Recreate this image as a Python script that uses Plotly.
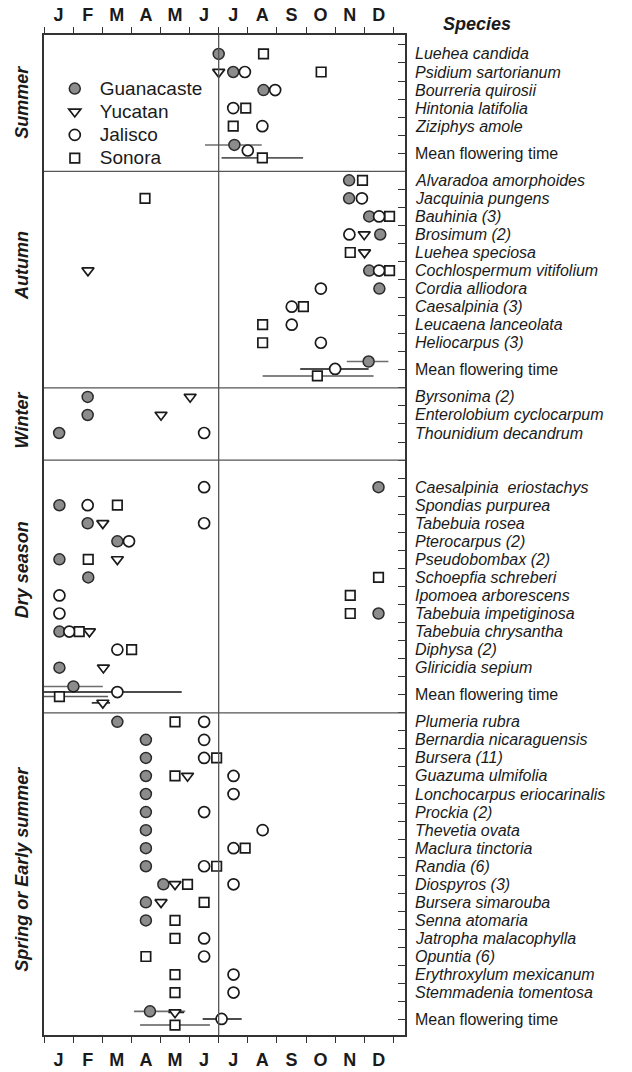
import plotly.graph_objects as go

# ---------------- data ----------------
MONTHS = ["J", "F", "M", "A", "M", "J", "J", "A", "S", "O", "N", "D"]
SECTIONS = ["Summer", "Autumn", "Winter", "Dry season", "Spring or Early summer"]
REGIONS = ["Guanacaste", "Yucatan", "Jalisco", "Sonora"]

summer_species = ["Luehea candida", "Psidium sartorianum", "Bourreria quirosii",
                  "Hintonia latifolia", "Ziziphys amole"]
summer_guan = [6.0, 6.5, 7.54, None, None]
summer_yuc = [None, 6.0, None, None, None]
summer_jal = [None, 6.9, 7.94, 6.5, 7.5]
summer_son = [7.54, 9.52, None, 6.93, 6.5]

autumn_species = ["Alvaradoa amorphoides", "Jacquinia pungens", "Bauhinia (3)",
                  "Brosimum (2)", "Luehea speciosa", "Cochlospermum vitifolium",
                  "Cordia alliodora", "Caesalpinia (3)", "Leucaena lanceolata",
                  "Heliocarpus (3)"]
autumn_guan = [10.48, 10.48, 11.17, 11.55, None, 11.17, 11.52, None, None, None]
autumn_yuc = [None, None, None, 11.0, 11.01, 1.51, None, None, None, None]
autumn_jal = [None, 10.92, 11.51, 10.49, None, 11.51, 9.51, 8.51, 8.51, 9.51]
autumn_son = [10.94, 3.47, 11.87, None, 10.52, 11.87, None, 8.91, 7.51, 7.51]

winter_species = ["Byrsonima (2)", "Enterolobium cyclocarpum", "Thounidium decandrum"]
winter_guan = [1.5, 1.5, 0.52]
winter_yuc = [5.02, 4.02, None]
winter_jal = [None, None, 5.5]
winter_son = [None, None, None]

dry_species = ["Caesalpinia\u00a0 eriostachys", "Spondias purpurea", "Tabebuia rosea",
               "Pterocarpus (2)", "Pseudobombax (2)", "Schoepfia schreberi",
               "Ipomoea arborescens", "Tabebuia impetiginosa", "Tabebuia chrysantha",
               "Diphysa (2)", "Gliricidia sepium"]
dry_guan = [11.49, 0.53, 1.5, 2.52, 0.53, 1.52, None, 11.49, 0.53, None, 0.53]
dry_yuc = [None, None, 2.02, None, 2.52, None, None, None, 1.56, None, 2.04]
dry_jal = [5.5, 1.5, 5.5, 2.92, None, None, 0.53, 0.53, 0.87, 2.52, None]
dry_son = [None, 2.52, None, None, 1.52, 11.49, 10.52, 10.52, 1.21, 3.01, None]

spring_species = ["Plumeria rubra", "Bernardia nicaraguensis", "Bursera (11)",
                  "Guazuma ulmifolia", "Lonchocarpus eriocarinalis", "Prockia (2)",
                  "Thevetia ovata", "Maclura tinctoria", "Randia (6)", "Diospyros (3)",
                  "Bursera simarouba", "Senna atomaria", "Jatropha malacophylla",
                  "Opuntia (6)", "Erythroxylum mexicanum", "Stemmadenia tomentosa"]
spring_guan = [2.52, 3.5, 3.5, 3.5, 3.5, 3.5, 3.5, 3.5, 3.5, 4.1, 3.5, 3.5,
               None, None, None, None]
spring_yuc = [None, None, None, 4.93, None, None, None, None, None, 4.5, 4.02, None,
              None, None, None, None]
spring_jal = [5.5, 5.5, 5.5, 6.51, 6.51, 5.5, 7.51, 6.51, 5.5, 6.51, None, None,
              5.5, 5.5, 6.51, 6.51]
spring_son = [4.5, None, 5.93, 4.5, None, None, None, 6.91, 5.93, 4.93, 5.5, 4.5,
              4.5, 3.5, 4.5, 4.5]

# mean flowering time per section (Summer, Autumn, Winter, Dry, Spring)
guan_mean = [6.54, 11.15, None, 1.01, 3.64]
guan_mean_lo = [5.53, 10.4, None, 0.0, 3.09]
guan_mean_hi = [7.48, 11.83, None, 2.02, 4.85]
yuc_mean = [None, None, None, 2.02, 4.5]
yuc_mean_lo = [None, None, None, 1.64, 4.27]
yuc_mean_hi = [None, None, None, 2.27, 4.81]
jal_mean = [7.0, 10.0, None, 2.52, 6.1]
jal_mean_lo = [7.0, 8.8, None, 0.0, 5.45]
jal_mean_hi = [7.0, 11.15, None, 4.73, 6.79]
son_mean = [7.5, 9.39, None, 0.53, 4.5]
son_mean_lo = [6.1, 7.51, None, 0.0, 3.3]
son_mean_hi = [8.9, 11.32, None, 2.2, 5.7]

# ---------------- layout helpers (row structure) ----------------
section_species = [summer_species, autumn_species, winter_species, dry_species, spring_species]
section_values = {
    "Guanacaste": [summer_guan, autumn_guan, winter_guan, dry_guan, spring_guan],
    "Yucatan": [summer_yuc, autumn_yuc, winter_yuc, dry_yuc, spring_yuc],
    "Jalisco": [summer_jal, autumn_jal, winter_jal, dry_jal, spring_jal],
    "Sonora": [summer_son, autumn_son, winter_son, dry_son, spring_son],
}
means = {
    "Guanacaste": (guan_mean, guan_mean_lo, guan_mean_hi),
    "Yucatan": (yuc_mean, yuc_mean_lo, yuc_mean_hi),
    "Jalisco": (jal_mean, jal_mean_lo, jal_mean_hi),
    "Sonora": (son_mean, son_mean_lo, son_mean_hi),
}
pad_top = [0, 0, 0, 1, 0]
has_mean = [True, True, False, True, True]
mean_dy = {"Guanacaste": [-0.46] * 5, "Yucatan": [0, 0, 0, 0.45, -0.4],
           "Jalisco": [-0.15, -0.05, 0, -0.15, -0.04], "Sonora": [0.26, 0.34, 0, 0.1, 0.3]}
label_y = [3.2, 12.25, 20.8, 29.1, 45.7]

row_y = []
mean_y = []
boundaries = []
cur = 0
for i, sp in enumerate(section_species):
    start = cur + pad_top[i]
    row_y.append([start + k + 0.5 for k in range(len(sp))])
    end_sp = start + len(sp)
    if has_mean[i]:
        mean_y.append(end_sp + 1)
        cur = end_sp + 2
    else:
        mean_y.append(None)
        cur = end_sp + 1
    boundaries.append(cur)
Y_TOP, Y_BOT = -0.55, 54.85

styles = {
    "Guanacaste": dict(symbol="circle", size=11, color="#8c8c8c", line=dict(color="#2a2a2a", width=1.5)),
    "Yucatan": dict(symbol="triangle-down", size=10.5, color="white", line=dict(color="#1a1a1a", width=1.7)),
    "Jalisco": dict(symbol="circle", size=11, color="white", line=dict(color="#1a1a1a", width=1.7)),
    "Sonora": dict(symbol="square", size=9.5, color="white", line=dict(color="#1a1a1a", width=1.7)),
}
bar_color = {"Guanacaste": "#6e6e6e", "Yucatan": "#222222", "Jalisco": "#111111", "Sonora": "#5a5a5a"}

fig = go.Figure()

for reg in REGIONS:
    m, lo, hi = means[reg]
    xs, ys, ep, em = [], [], [], []
    for i in range(5):
        if m[i] is None:
            continue
        xs.append(m[i])
        ys.append(mean_y[i] + mean_dy[reg][i])
        ep.append(hi[i] - m[i])
        em.append(m[i] - lo[i])
    fig.add_trace(go.Scatter(
        x=xs, y=ys, mode="markers", marker=styles[reg], showlegend=False,
        error_x=dict(type="data", symmetric=False, array=ep, arrayminus=em,
                     color=bar_color[reg], thickness=1.6, width=0),
        hoverinfo="skip"))

for reg in REGIONS:
    xs, ys = [], []
    for i in range(5):
        for v, y in zip(section_values[reg][i], row_y[i]):
            if v is not None:
                xs.append(v)
                ys.append(y)
    fig.add_trace(go.Scatter(x=xs, y=ys, mode="markers",
                             name="<span style='font-size:19px'>%s</span>" % reg,
                             marker=styles[reg]))

fig.add_trace(go.Scatter(x=[0], y=[0], xaxis="x2", mode="markers",
                         marker=dict(opacity=0), showlegend=False, hoverinfo="skip"))

FONT = "Liberation Sans, Arial, sans-serif"
anns = []
for i, sp in enumerate(section_species):
    for name, y in zip(sp, row_y[i]):
        anns.append(dict(x=1, xref="paper", y=y, yref="y", xanchor="left", xshift=8,
                         text="<i>%s</i>" % name, showarrow=False,
                         font=dict(family=FONT, size=16, color="#1a1a1a")))
    if mean_y[i] is not None:
        anns.append(dict(x=1, xref="paper", y=mean_y[i], yref="y", xanchor="left", xshift=8,
                         text="Mean flowering time", showarrow=False,
                         font=dict(family=FONT, size=16, color="#1a1a1a")))
    anns.append(dict(x=0, xref="paper", y=label_y[i], yref="y", xshift=-22,
                     xanchor="center", yanchor="middle",
                     text="<b><i>%s</i></b>" % SECTIONS[i], textangle=-90, showarrow=False,
                     font=dict(family=FONT, size=18, color="#1a1a1a")))
anns.append(dict(x=1, xref="paper", y=1, yref="paper", xshift=72, yshift=11,
                 xanchor="center", yanchor="middle", text="<b><i>Species</i></b>",
                 showarrow=False, font=dict(family=FONT, size=18, color="#1a1a1a")))

shapes = [dict(type="line", xref="x", yref="paper", x0=6, x1=6, y0=0, y1=1,
               line=dict(color="#555", width=1.3))]
for b in boundaries[:-1]:
    shapes.append(dict(type="line", xref="paper", yref="y", x0=0, x1=1, y0=b, y1=b,
                       line=dict(color="#555", width=1.3)))

month_pos = [i + 0.5 for i in range(12)]
month_txt = ["<b>%s</b>" % m for m in MONTHS]
xcommon = dict(range=[0, 12.4], tickvals=month_pos, ticktext=month_txt,
               ticks="outside", tickcolor="rgba(0,0,0,0)", automargin=False,
               tickfont=dict(family=FONT, size=18, color="#1a1a1a"),
               showgrid=False, zeroline=False, showline=True, linecolor="#333", linewidth=1.5,
               minor=dict(tickvals=list(range(13)), ticks="outside", ticklen=6,
                          tickcolor="#333", tickwidth=1.2, showgrid=False))

fig.update_layout(
    width=632, height=1072,
    margin=dict(l=44, r=227, t=35, b=37, autoexpand=False),
    paper_bgcolor="white", plot_bgcolor="white",
    xaxis=dict(**xcommon, side="bottom", ticklen=8),
    xaxis2=dict(**xcommon, side="top", overlaying="x", matches="x", anchor="y", ticklen=5),
    yaxis=dict(range=[Y_BOT, Y_TOP], side="right", tickvals=list(range(55)),
               ticks="inside", ticklen=7, tickcolor="#333", tickwidth=1.2, automargin=False,
               showticklabels=False, showgrid=False, zeroline=False,
               showline=True, mirror=True, linecolor="#333", linewidth=1.5),
    legend=dict(x=0.016, y=0.963, xanchor="left", yanchor="top", bgcolor="rgba(0,0,0,0)",
                font=dict(family=FONT, size=15.5, color="#1a1a1a"), itemwidth=40),
    annotations=anns, shapes=shapes,
)

fig.write_html("out.html")
